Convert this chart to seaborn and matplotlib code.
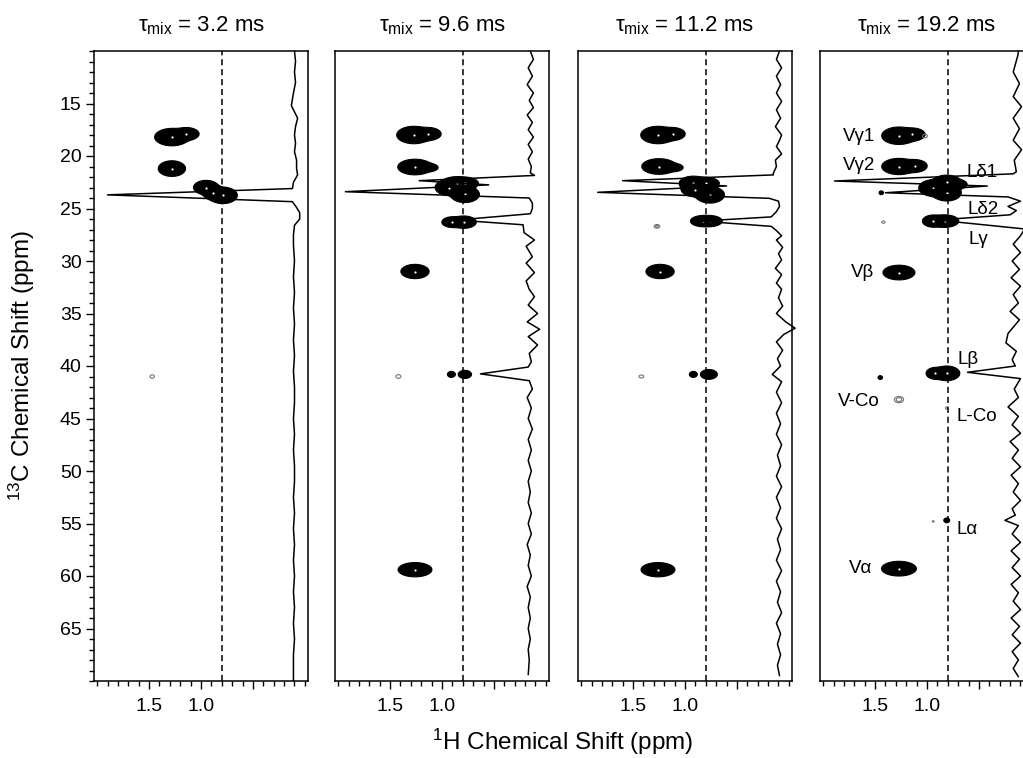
import numpy as np
import pandas as pd
import matplotlib
matplotlib.use("Agg")
import matplotlib.pyplot as plt
from matplotlib.ticker import MultipleLocator, FixedLocator, FixedFormatter
import seaborn as sns

sns.set_theme(style="white")
plt.rcParams["font.family"] = ["Liberation Sans", "DejaVu Sans"]
plt.rcParams["mathtext.fontset"] = "custom"
plt.rcParams["mathtext.rm"] = "Liberation Sans"
plt.rcParams["mathtext.it"] = "Liberation Sans"
plt.rcParams["mathtext.bf"] = "Liberation Sans:bold"
plt.rcParams["mathtext.sf"] = "Liberation Sans"

# ---------------- data ----------------
mix_times = ["3.2", "9.6", "11.2", "19.2"]
h_limits = (2.03, -0.03)          # 1H axis (ppm), reversed
c_limits = (70.0, 10.0)           # 13C axis (ppm), reversed
dash_h = 0.8                      # dashed reference line (1H ppm)
h_major = [1.5, 1.0, 0.5]
h_major_labels = ["1.5", "1.0", ""]
c_major = [15, 20, 25, 30, 35, 40, 45, 50, 55, 60, 65]

# 2D cross peaks: (1H ppm, 13C ppm, 1H width, 13C width, intensity)
peaks_3_2 = [
    (1.28, 18.2, 0.058, 0.29, 60), (1.14, 17.9, 0.048, 0.24, 25),
    (1.28, 21.2, 0.046, 0.26, 60),
    (0.95, 23.0, 0.045, 0.25, 40), (0.88, 23.5, 0.040, 0.25, 30),
    (0.79, 23.75, 0.050, 0.28, 50),
    (1.47, 41.0, 0.020, 0.15, 1.8),
]
peaks_9_6 = [
    (1.27, 18.0, 0.058, 0.29, 60), (1.13, 17.9, 0.048, 0.24, 25),
    (1.26, 21.05, 0.058, 0.26, 60), (1.12, 21.1, 0.040, 0.18, 8),
    (0.93, 23.0, 0.050, 0.28, 40), (0.86, 22.55, 0.050, 0.22, 30),
    (0.78, 22.6, 0.050, 0.22, 30), (0.78, 23.65, 0.050, 0.28, 50),
    (0.90, 26.3, 0.040, 0.20, 25), (0.79, 26.3, 0.045, 0.22, 35),
    (1.26, 31.0, 0.050, 0.25, 40),
    (1.42, 41.0, 0.020, 0.15, 2.0),
    (0.91, 40.8, 0.020, 0.15, 6), (0.78, 40.8, 0.030, 0.18, 10),
    (1.26, 59.4, 0.060, 0.25, 40),
]
peaks_11_2 = [
    (1.26, 18.0, 0.058, 0.29, 60), (1.12, 17.9, 0.048, 0.24, 25),
    (1.25, 21.0, 0.058, 0.26, 60), (1.10, 21.1, 0.040, 0.18, 8),
    (0.92, 22.6, 0.050, 0.25, 40), (0.80, 22.6, 0.050, 0.22, 30),
    (0.90, 23.2, 0.050, 0.25, 40), (0.76, 23.7, 0.050, 0.28, 50),
    (0.83, 26.2, 0.045, 0.20, 30), (0.76, 26.2, 0.045, 0.20, 30),
    (1.27, 26.7, 0.020, 0.13, 2.5),
    (1.24, 31.0, 0.050, 0.25, 40),
    (1.42, 41.0, 0.020, 0.12, 2.0),
    (0.92, 40.8, 0.020, 0.15, 6), (0.77, 40.8, 0.035, 0.20, 15),
    (1.26, 59.4, 0.060, 0.25, 40),
]
peaks_19_2 = [
    (1.27, 18.07, 0.058, 0.29, 60), (1.14, 17.95, 0.048, 0.24, 25),
    (1.02, 18.1, 0.020, 0.15, 2.0),
    (1.27, 21.0, 0.058, 0.27, 60), (1.12, 20.95, 0.048, 0.24, 25),
    (0.94, 23.05, 0.050, 0.28, 50), (0.81, 22.5, 0.050, 0.25, 40),
    (0.81, 23.5, 0.050, 0.28, 50), (0.70, 22.7, 0.040, 0.20, 10),
    (1.44, 23.5, 0.012, 0.10, 5),
    (0.94, 26.2, 0.040, 0.22, 30), (0.83, 26.2, 0.050, 0.22, 40),
    (1.42, 26.3, 0.015, 0.10, 1.8),
    (1.27, 31.1, 0.055, 0.25, 50),
    (1.45, 41.1, 0.012, 0.10, 5),
    (0.92, 40.7, 0.035, 0.22, 25), (0.81, 40.7, 0.045, 0.25, 50),
    (1.27, 43.2, 0.030, 0.20, 3.0),
    (0.81, 44.0, 0.010, 0.10, 2.0),
    (0.81, 54.7, 0.015, 0.12, 6), (0.94, 54.8, 0.010, 0.08, 1.5),
    (1.27, 59.3, 0.060, 0.25, 50),
]
all_peaks = [peaks_3_2, peaks_9_6, peaks_11_2, peaks_19_2]

# 1D projections drawn at the right edge: 13C ppm and 1H-axis position
trace_c_3_2 = [10.0, 11.0, 12.0, 13.0, 14.0, 14.6, 15.2, 15.8, 16.4, 17.2, 18.0, 18.8,
               19.6, 20.4, 21.2, 21.8, 22.5, 23.1, 23.7, 24.35, 24.9, 25.4, 26.0, 26.6,
               27.5, 28.5, 30.0, 31.5, 33.0, 34.5, 36.0, 37.5, 39.0, 40.5, 42.0, 43.5,
               45.0, 46.5, 48.0, 49.5, 51.0, 52.5, 54.0, 55.5, 57.0, 58.5, 60.0, 61.5,
               63.0, 64.5, 66.0, 67.5, 69.0, 70.0]
trace_h_3_2 = [0.10, 0.09, 0.10, 0.09, 0.11, 0.12, 0.13, 0.10, 0.07, 0.09, 0.10, 0.09,
               0.10, 0.08, 0.08, 0.07, 0.11, 0.12, 1.90, 0.12, 0.08, 0.05, 0.05, 0.10,
               0.11, 0.11, 0.10, 0.11, 0.10, 0.11, 0.10, 0.11, 0.10, 0.11, 0.10, 0.10,
               0.11, 0.10, 0.11, 0.10, 0.10, 0.11, 0.10, 0.11, 0.10, 0.11, 0.10, 0.11,
               0.10, 0.11, 0.10, 0.11, 0.11, 0.11]

trace_c_9_6 = [10.0, 10.8, 11.6, 12.4, 13.2, 14.0, 14.7, 15.4, 16.1, 16.8, 17.5, 18.2,
               18.9, 19.6, 20.3, 21.0, 21.6, 21.85, 22.35, 22.75, 23.4, 24.0, 24.5, 25.0,
               25.5, 26.1, 26.55, 27.3, 28.0, 28.6, 29.6, 30.2, 31.1, 31.9, 32.7, 33.4,
               34.2, 35.0, 35.8, 36.5, 37.2, 38.0, 38.8, 39.6, 40.1, 40.75, 41.4, 42.2,
               43.0, 44.0, 45.0, 46.0, 47.0, 48.0, 49.0, 50.0, 51.0, 52.0, 53.0, 54.0,
               55.0, 56.0, 57.0, 58.0, 59.0, 60.0, 61.0, 62.0, 63.0, 64.0, 65.0, 66.0,
               67.0, 68.0, 69.4]
trace_h_9_6 = [0.15, 0.12, 0.17, 0.13, 0.18, 0.12, 0.16, 0.12, 0.18, 0.13, 0.17, 0.12,
               0.17, 0.13, 0.17, 0.14, 0.15, 0.11, 1.22, 0.55, 1.93, 0.16, 0.13, 0.13,
               0.15, 0.86, 0.22, 0.21, 0.11, 0.19, 0.13, 0.19, 0.11, 0.19, 0.16, 0.11,
               0.17, 0.08, 0.18, 0.06, 0.17, 0.08, 0.16, 0.14, 0.17, 0.63, 0.16, 0.13,
               0.18, 0.14, 0.17, 0.13, 0.17, 0.14, 0.17, 0.14, 0.17, 0.15, 0.17, 0.14,
               0.17, 0.14, 0.18, 0.15, 0.17, 0.14, 0.18, 0.15, 0.17, 0.15, 0.17, 0.15,
               0.17, 0.16, 0.17]

trace_c_11_2 = [10.0, 10.8, 11.6, 12.4, 13.2, 14.0, 14.8, 15.6, 16.4, 17.2, 18.0, 18.5,
                19.1, 19.8, 20.4, 21.0, 21.65, 21.8, 22.35, 22.85, 23.46, 24.03, 24.3, 24.8,
                25.3, 25.8, 26.2, 26.7, 27.1, 27.6, 28.0, 28.7, 29.3, 29.9, 30.7, 31.3,
                32.1, 32.7, 33.5, 34.3, 35.0, 35.8, 36.4, 37.0, 37.7, 38.5, 39.3, 40.0,
                40.8, 41.5, 42.5, 43.5, 44.5, 45.5, 46.5, 47.5, 48.5, 49.5, 50.5, 51.5,
                52.5, 53.5, 54.5, 55.5, 56.5, 57.5, 58.5, 59.5, 60.5, 61.5, 62.5, 63.5,
                64.5, 65.5, 66.5, 67.5, 68.5, 69.5]
trace_h_11_2 = [0.09, 0.12, 0.07, 0.12, 0.08, 0.12, 0.07, 0.12, 0.08, 0.13, 0.07, 0.09,
                0.12, 0.07, 0.13, 0.12, 0.15, 0.15, 1.60, 0.60, 1.84, 0.19, 0.10, 0.09,
                0.12, 0.17, 0.85, 0.17, 0.12, 0.07, 0.12, 0.06, 0.10, 0.07, 0.13, 0.07,
                0.12, 0.07, 0.10, 0.06, 0.12, 0.03, -0.06, 0.05, 0.12, 0.06, 0.11, 0.08,
                0.16, 0.07, 0.12, 0.07, 0.12, 0.08, 0.12, 0.07, 0.11, 0.08, 0.12, 0.07,
                0.12, 0.08, 0.12, 0.07, 0.11, 0.08, 0.12, 0.07, 0.12, 0.08, 0.11, 0.07,
                0.12, 0.08, 0.11, 0.08, 0.11, 0.09]

trace_c_19_2 = [10.0, 10.4, 12.0, 13.1, 14.35, 15.3, 16.4, 17.4, 18.5, 19.4, 20.4, 21.5,
                21.7, 22.38, 22.86, 23.5, 23.9, 24.3, 24.8, 25.2, 25.6, 26.1, 26.95, 27.6,
                28.4, 29.2, 30.0, 30.8, 31.6, 32.4, 33.2, 34.0, 34.8, 35.6, 36.9, 37.8,
                38.6, 39.4, 40.0, 40.6, 41.2, 42.2, 43.0, 43.9, 44.8, 45.6, 46.4, 47.2,
                48.0, 48.8, 49.6, 50.4, 51.2, 52.0, 52.8, 53.6, 54.2, 54.7, 55.2, 56.0,
                56.8, 57.6, 58.4, 59.2, 60.0, 60.8, 61.6, 62.4, 63.2, 64.0, 64.8, 65.6,
                66.4, 67.2, 68.0, 68.8, 69.6]
trace_h_19_2 = [0.12, 0.125, 0.17, 0.11, 0.17, 0.09, 0.17, 0.11, 0.17, 0.09, 0.16, 0.14,
                0.17, 1.89, 0.42, 1.40, 0.22, 0.10, 0.22, 0.14, 0.20, 0.90, 0.06, 0.10,
                0.17, 0.10, 0.18, 0.11, 0.19, 0.10, 0.17, 0.12, 0.20, 0.11, 0.22, 0.24,
                0.14, 0.18, 0.15, 0.61, 0.10, 0.16, 0.12, 0.22, 0.12, 0.18, 0.10, 0.20,
                0.12, 0.18, 0.10, 0.19, 0.12, 0.17, 0.10, 0.18, 0.15, 0.25, 0.12, 0.18,
                0.10, 0.19, 0.11, 0.18, 0.10, 0.19, 0.12, 0.17, 0.10, 0.19, 0.11, 0.18,
                0.10, 0.18, 0.12, 0.17, 0.12]
all_trace_c = [trace_c_3_2, trace_c_9_6, trace_c_11_2, trace_c_19_2]
all_trace_h = [trace_h_3_2, trace_h_9_6, trace_h_11_2, trace_h_19_2]

# assignment labels in the last panel: text, 1H ppm, 13C ppm, side
label_text = ["V\u03b31", "V\u03b32", "L\u03b41", "L\u03b42", "L\u03b3", "V\u03b2",
              "L\u03b2", "V-Co", "L-Co", "L\u03b1", "V\u03b1"]
label_h = [1.50, 1.50, 0.62, 0.61, 0.60, 1.51, 0.71, 1.46, 0.72, 0.72, 1.53]
label_c = [18.1, 20.95, 21.6, 25.05, 28.0, 31.1, 39.4, 43.4, 44.8, 55.6, 59.3]
label_side = ["right", "right", "left", "left", "left", "right", "left", "right",
              "left", "left", "right"]

# ---------------- figure ----------------
FW, FH = 1023, 758
fig = plt.figure(figsize=(FW / 100, FH / 100), dpi=100)
lefts_px = [94, 335, 578, 820]
width_px = 214
top_px, bottom_px = 51, 681

hh = np.linspace(-0.03, 2.03, 520)
cc = np.linspace(10.0, 70.0, 1600)
HH, CC = np.meshgrid(hh, cc)


def field(peaks, strong):
    Z = np.zeros_like(HH)
    for h, c, sh, sc, a in peaks:
        if (a >= 4) == strong:
            Z += a * np.exp(-0.5 * (((HH - h) / sh) ** 2 + ((CC - c) / sc) ** 2))
    return Z


axes = []
for i in range(4):
    ax = fig.add_axes([lefts_px[i] / FW, (FH - bottom_px) / FH,
                       width_px / FW, (bottom_px - top_px) / FH])
    axes.append(ax)
    peaks = all_peaks[i]

    Zs = field(peaks, True)
    ax.contourf(HH, CC, Zs, levels=[1.0, 1e9], colors=["black"], antialiased=True)
    ax.contour(HH, CC, Zs, levels=[1.0], colors=["black"], linewidths=0.8)
    Zw = field(peaks, False)
    if Zw.max() > 1.0:
        ax.contour(HH, CC, Zw, levels=[1.0, 2.0], colors=["0.45"], linewidths=0.8)

    centers = pd.DataFrame([p for p in peaks if p[4] >= 20],
                           columns=["h", "c", "sh", "sc", "a"])
    ax.scatter(centers["h"], centers["c"], s=2.5, color="white", zorder=4,
               linewidths=0)

    ax.axvline(dash_h, color="black", lw=1.1, dashes=(4, 2.5), zorder=3)

    tr = pd.DataFrame({"h": all_trace_h[i], "c": all_trace_c[i]})
    sns.lineplot(data=tr, x="h", y="c", sort=False, estimator=None, color="black",
                 lw=1.1, ax=ax, zorder=5, clip_on=False)

    ax.set_xlim(*h_limits)
    ax.set_ylim(*c_limits)
    ax.set_xlabel("")
    ax.set_ylabel("")
    for s in ax.spines.values():
        s.set_visible(True)
        s.set_color("black")
        s.set_linewidth(1.1)

    ax.xaxis.set_major_locator(FixedLocator(h_major))
    ax.xaxis.set_major_formatter(FixedFormatter(h_major_labels))
    ax.xaxis.set_minor_locator(MultipleLocator(0.1))
    ax.tick_params(axis="x", which="both", direction="out", bottom=True, top=False,
                   colors="black", labelsize=14, width=1.0)
    ax.tick_params(axis="x", which="major", length=6, pad=6)
    ax.tick_params(axis="x", which="minor", length=3.5)

    if i == 0:
        ax.yaxis.set_major_locator(FixedLocator(c_major))
        ax.yaxis.set_minor_locator(MultipleLocator(1))
        ax.tick_params(axis="y", which="both", direction="out", left=True, right=False,
                       colors="black", labelsize=14, width=1.0)
        ax.tick_params(axis="y", which="major", length=6, pad=3)
        ax.tick_params(axis="y", which="minor", length=3.5)
    else:
        ax.set_yticks([])
        ax.tick_params(axis="y", which="both", left=False, right=False)

    ax.set_title(r"$\tau_{\mathrm{mix}}$ = " + mix_times[i] + " ms", fontsize=16,
                 pad=14, color="black")

ax4 = axes[3]
for t, h, c, side in zip(label_text, label_h, label_c, label_side):
    ax4.text(h, c, t, ha=side, va="center", fontsize=13.5, color="black", zorder=6)

fig.text(563 / FW, (FH - 742) / FH, r"$^{1}$H Chemical Shift (ppm)", ha="center",
         va="center", fontsize=17.5, color="black")
fig.text(22 / FW, (FH - 366) / FH, r"$^{13}$C Chemical Shift (ppm)", ha="center",
         va="center", rotation=90, fontsize=17.5, color="black")

fig.savefig("out.png", dpi=100)
